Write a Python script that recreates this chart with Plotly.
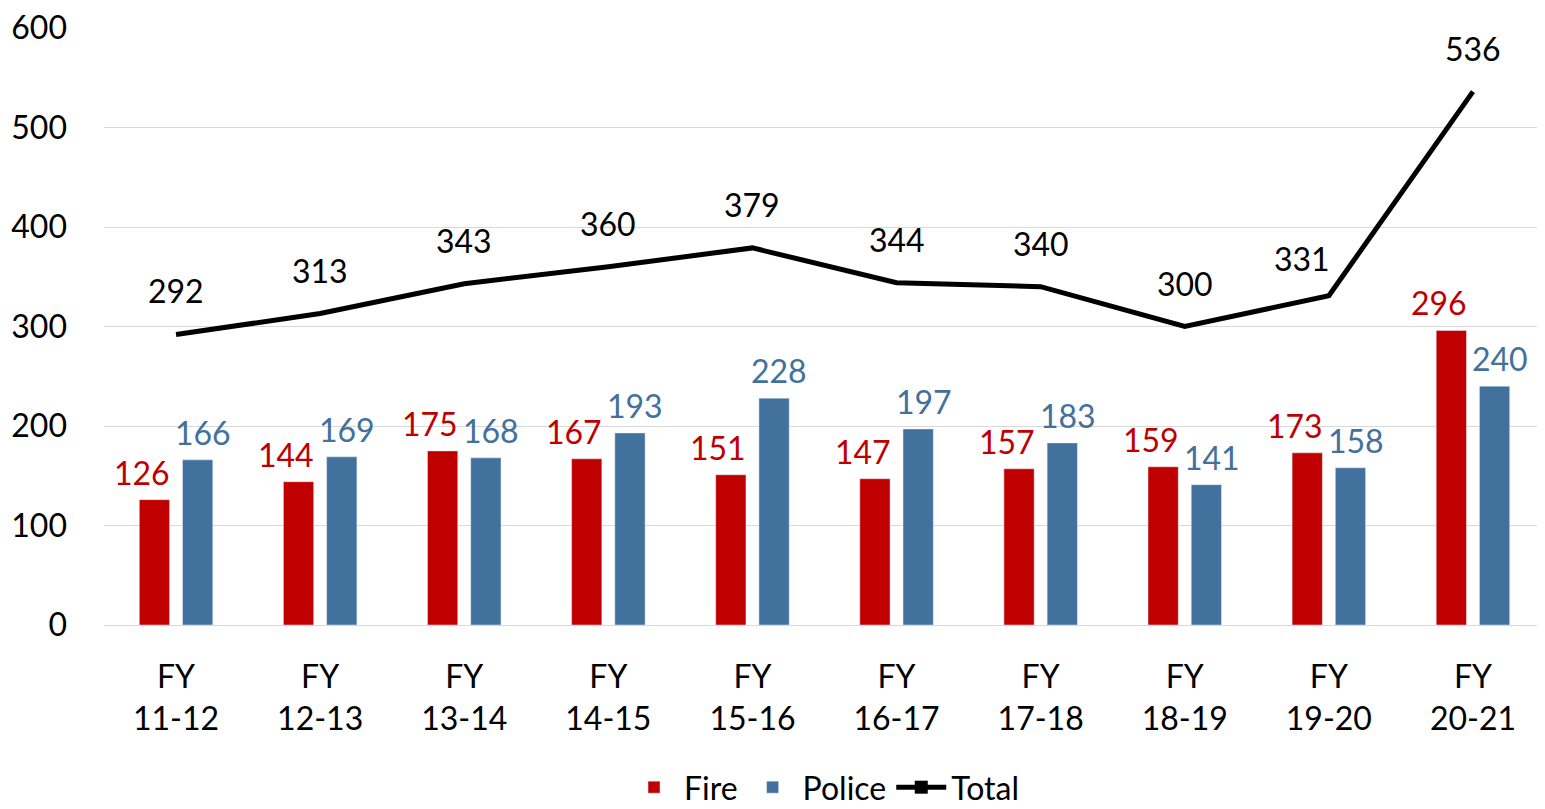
import plotly.graph_objects as go

categories = ["FY<br>11-12", "FY<br>12-13", "FY<br>13-14", "FY<br>14-15", "FY<br>15-16",
              "FY<br>16-17", "FY<br>17-18", "FY<br>18-19", "FY<br>19-20", "FY<br>20-21"]
fire = [126, 144, 175, 167, 151, 147, 157, 159, 173, 296]
police = [166, 169, 168, 193, 228, 197, 183, 141, 158, 240]
total = [292, 313, 343, 360, 379, 344, 340, 300, 331, 536]

FIRE_C = "#C00000"
POLICE_C = "#41719C"
FONT = "Lato"
FS = 32

fig = go.Figure()
fig.add_trace(go.Bar(x=categories, y=fire, name="Fire", marker_color=FIRE_C))
fig.add_trace(go.Bar(x=categories, y=police, name="Police", marker_color=POLICE_C))
fig.add_trace(go.Scatter(x=categories, y=total, mode="lines", line=dict(color="black", width=5),
                         showlegend=False, name="Total"))
fig.add_trace(go.Scatter(x=[None], y=[None], mode="lines+markers", name="Total",
                         line=dict(color="black", width=5),
                         marker=dict(symbol="square", size=13, color="black")))

ann = []
for i, c in enumerate(categories):
    ann.append(dict(x=c, y=fire[i], text=str(fire[i]), showarrow=False, xref="x", yref="y",
                    yanchor="bottom", yshift=6, xshift=-34,
                    font=dict(color=FIRE_C, size=FS, family=FONT)))
    ann.append(dict(x=c, y=police[i], text=str(police[i]), showarrow=False, xref="x", yref="y",
                    yanchor="bottom", yshift=6, xshift=27,
                    font=dict(color=POLICE_C, size=FS, family=FONT)))
    steep = i + 1 < len(total) and total[i + 1] - total[i] > 100
    ann.append(dict(x=c, y=total[i], text=str(total[i]), showarrow=False, xref="x", yref="y",
                    yanchor="bottom", yshift=16 if steep else 22, xshift=-27 if steep else 0,
                    font=dict(color="black", size=FS, family=FONT)))

fig.update_layout(
    width=1537, height=817,
    margin=dict(l=96, r=0, t=20, b=200),
    paper_bgcolor="white", plot_bgcolor="white",
    barmode="group", bargap=0.40, bargroupgap=0.3,
    font=dict(family=FONT, size=FS, color="black"),
    annotations=ann,
    legend=dict(orientation="h", x=0.5, xanchor="center", y=-0.272, yanchor="middle",
                font=dict(size=FS, family=FONT), itemwidth=50, traceorder="normal"),
    yaxis=dict(range=[0, 600], dtick=100, gridcolor="#D9D9D9", gridwidth=1,
               zeroline=True, zerolinecolor="#D9D9D9", zerolinewidth=1,
               showline=False, ticks="", ticklabelstandoff=36, automargin=False,
               ticklabeloverflow="allow", tickfont=dict(size=FS, family=FONT)),
    xaxis=dict(showline=False, ticks="", tickfont=dict(size=FS, family=FONT),
               ticklabelstandoff=30, tickangle=0, automargin=False, ticklabeloverflow="allow"),
)

fig.write_html("out.html")
